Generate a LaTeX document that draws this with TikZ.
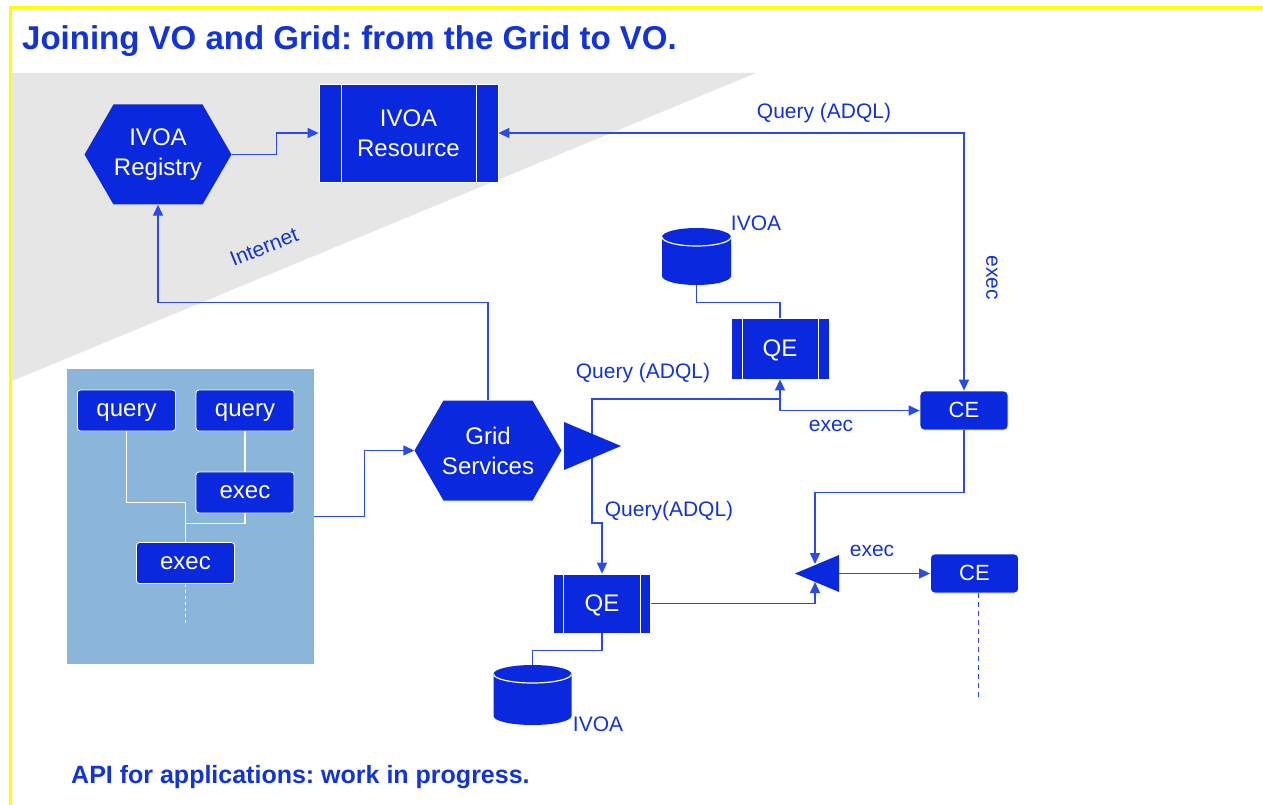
\documentclass[tikz,border=0pt]{standalone}
\usepackage{fontspec}
\setmainfont{Liberation Sans}
\usetikzlibrary{arrows.meta,calc,positioning}
\definecolor{nodeblue}{HTML}{0A29DE}
\definecolor{lineblue}{HTML}{2A4BE8}
\definecolor{textblue}{HTML}{1233D8}
\definecolor{panelblue}{HTML}{8BB5D9}
\definecolor{netgrey}{HTML}{E6E6E6}
\definecolor{frameyellow}{HTML}{FFFF00}
\tikzset{
  box/.style        = {draw=white, line width=0.8pt, fill=nodeblue, text=white,
                       align=center, inner sep=0pt, font=\fontsize{24}{30}\selectfont},
  job box/.style    = {box, rounded corners=3pt, minimum width=98pt, minimum height=41pt,
                       text height=12pt, text depth=0pt},
  ce box/.style     = {box, rounded corners=4pt, minimum width=88pt, minimum height=39pt,
                       text height=13pt, text depth=0pt, font=\fontsize{22}{26}\selectfont},
  engine bars/.style = {path picture={
      \draw[white, line width=0.8pt] ([xshift=#1]path picture bounding box.north west)
        -- ([xshift=#1]path picture bounding box.south west);
      \draw[white, line width=0.8pt] ([xshift=-#1]path picture bounding box.north east)
        -- ([xshift=-#1]path picture bounding box.south east);}},
  engine box/.style = {box, minimum width=98pt, minimum height=61pt, engine bars=11pt},
  hex box/.style    = {minimum width=147pt, minimum height=100pt, inner sep=0pt,
                       align=center, text=white, font=\fontsize{24}{30}\selectfont,
                       path picture={\fill[nodeblue]
                         (path picture bounding box.west)
                         -- ([xshift=29pt]path picture bounding box.north west)
                         -- ([xshift=-29pt]path picture bounding box.north east)
                         -- (path picture bounding box.east)
                         -- ([xshift=-29pt]path picture bounding box.south east)
                         -- ([xshift=29pt]path picture bounding box.south west)
                         -- cycle;}},
  store/.style      = {minimum width={2*#1}, inner sep=0pt,
                       path picture={
                         \fill[nodeblue] ([yshift=-9pt]path picture bounding box.north west)
                           -- ([yshift=9pt]path picture bounding box.south west)
                           arc[start angle=180, end angle=360, x radius=#1, y radius=9pt]
                           -- ([yshift=-9pt]path picture bounding box.north east)
                           arc[start angle=0, end angle=180, x radius=#1, y radius=9pt]
                           -- cycle;
                         \draw[white, line width=1.2pt]
                           ([yshift=-9pt]path picture bounding box.north west)
                           arc[start angle=180, end angle=360, x radius=#1, y radius=9pt];}},
  app panel/.style  = {fill=panelblue, minimum width=247pt, minimum height=295pt},
  tree line/.style  = {white, line width=1.2pt},
  wire/.style       = {lineblue, line width=1.4pt},
  link/.style       = {wire, -{Triangle[length=11pt, width=10pt]}},
  link both/.style  = {wire, {Triangle[length=11pt, width=10pt]}-{Triangle[length=11pt, width=10pt]}},
  label/.style      = {text=textblue, font=\fontsize{21}{25}\selectfont},
  title text/.style = {text=textblue, anchor=base west, font=\fontsize{33}{38}\selectfont\bfseries},
  note text/.style  = {text=textblue, anchor=base west, font=\fontsize{25}{30}\selectfont\bfseries},
  frame/.style      = {frameyellow, line width=3pt},
}
\begin{document}
\frenchspacing
\begin{tikzpicture}[x=1pt, y=-1pt, every node/.style={inner sep=0pt}]
  \useasboundingbox (0,0) rectangle (1263,805);
  \fill[netgrey] (12,73) -- (756,73) -- (12,381) -- cycle;
  \draw[frame] (10.5,805) -- (10.5,7.5) -- (1263,7.5);
  \node[title text] (title) at (22,50) {Joining VO and Grid: from the Grid to VO.};

  \node[hex box] (registry) at (158,154.5) {IVOA\\Registry};
  \node[engine box, minimum width=179pt, minimum height=98pt, engine bars=22pt]
    (resource) at (408.5,133) {IVOA\\Resource};
  \node[label, rotate=22] (internet) at (264,247) {Internet};

  \node[app panel] (panel) at (190.5,516.5) {};
  \node[job box] (query a) at (126.5,410.5) {query};
  \node[job box] (query b) at (245,410.5) {query};
  \node[job box] (exec a) at (245,492.5) {exec};
  \node[job box] (exec b) at (185.5,563) {exec};
  \coordinate (tree end) at (185.5,625);
  \draw[tree line] (query a.south) -- ++(0,71) -| (exec b.north);
  \draw[tree line] (query b.south) -- (exec a.north);
  \draw[tree line] (exec a.south) -- ++(0,10) -| (exec b.north);
  \draw[tree line, dashed] (exec b.south) -- (tree end);

  \node[hex box] (grid) at (488,450.5) {Grid\\Services};
  \node[engine box, text height=16pt, text depth=0pt] (qe top) at (780,348.5) {QE};
  \node[engine box, minimum width=97pt, minimum height=59pt, engine bars=10pt,
    text height=16pt, text depth=0pt] (qe low) at (602,603.5) {QE};
  \node[store=34.5pt, minimum height=57pt] (db top) at (696.5,256.5) {};
  \node[store=39pt, minimum height=60pt] (db low) at (532.5,695) {};
  \node[ce box] (ce top) at (964,410.5) {CE};
  \node[ce box] (ce low) at (974.5,573.5) {CE};

  \coordinate (fork) at (592,446);
  \coordinate (split) at (780,399);
  \coordinate (merge in) at (815,564);
  \coordinate (merge up) at (815,582);
  \coordinate (merge out) at (839,573.5);
  \coordinate (ce end) at (978.5,697);

  \draw[link] (registry.east) -- ++(45,0) |- (resource.west);
  \draw[link both] (resource.east) -| (ce top.north);
  \draw[link] (grid.north) -- ++(0,-98) -| (registry.south);
  \draw[link] (panel.east) -- ++(50,0) |- (grid.west);
  \draw[link] (fork) |- (split) -- (qe top.south);
  \draw[link] (split) |- (ce top.west);
  \draw[link] (fork) -- ++(0,77) -| (qe low.north);
  \draw[wire] (db top.south) -- ++(0,17) -| (qe top.north);
  \draw[wire] (qe low.south) -- ++(0,17) -| (db low.north);
  \draw[link] (ce top.south) -- ++(0,62) -| (merge in);
  \draw[link] (qe low.east) -| (merge up);
  \draw[link] (merge out) -- (ce low.west);
  \draw[wire, dashed, dash pattern=on 5pt off 4pt] (ce end |- ce low.south) -- (ce end);

  \fill[nodeblue] (564,422) -- (621,446) -- (564,470) -- cycle;
  \fill[nodeblue] (795,573.5) -- (839,555) -- (839,592) -- cycle;

  \node[label] (q top) at (824,113) {Query (ADQL)};
  \node[label, rotate=-90] (exec side) at (992,278) {exec};
  \node[label] (ivoa top) at (756,223) {IVOA};
  \node[label] (q mid) at (643,373) {Query (ADQL)};
  \node[label] (exec mid) at (831,426) {exec};
  \node[label] (q low) at (669,511) {Query(ADQL)};
  \node[label] (exec low) at (872,551) {exec};
  \node[label] (ivoa low) at (598,724) {IVOA};
  \node[note text] (api) at (71,783) {API for applications: work in progress.};
\end{tikzpicture}
\end{document}
